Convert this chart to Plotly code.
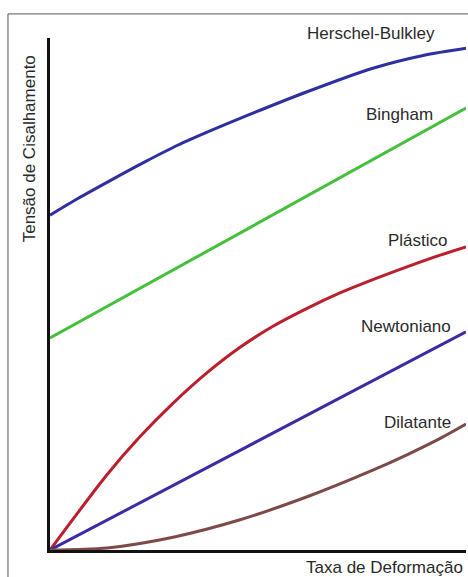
import plotly.graph_objects as go

# Data (x: 0-100 shear rate, y: 0-100 shear stress)
hb_x = [0, 6.8, 14.8, 22.8, 30.8, 38.9, 45.7, 61.8, 77.6, 89.7, 100]
hb_y = [65.4, 68.7, 72.3, 75.8, 79.1, 82.0, 84.3, 89.5, 94.1, 96.6, 98.0]

bingham_x = [0, 100]
bingham_y = [41.4, 86.3]

plastico_x = [0, 13.7, 21.6, 29.6, 37.7, 45.7, 53.6, 61.8, 69.7, 77.6, 85.8, 93.8, 100]
plastico_y = [0, 14.7, 22.1, 28.7, 34.6, 39.6, 43.7, 47.2, 50.2, 52.8, 55.3, 57.6, 59.2]

newton_x = [0, 100]
newton_y = [0, 42.6]

dilat_x = [0, 13.7, 29.6, 45.7, 61.8, 77.6, 85.8, 93.8, 100]
dilat_y = [0, 0.4, 2.5, 5.9, 10.4, 15.6, 18.6, 21.8, 24.6]

names = ["Herschel-Bulkley", "Bingham", "Plástico", "Newtoniano", "Dilatante"]
colors = ["#2e2fa0", "#45c03c", "#bb1f2c", "#3a2ca2", "#7d4a4a"]
series = [(hb_x, hb_y), (bingham_x, bingham_y), (plastico_x, plastico_y),
          (newton_x, newton_y), (dilat_x, dilat_y)]

fig = go.Figure()
for (xs, ys), n, c in zip(series, names, colors):
    fig.add_trace(go.Scatter(x=xs, y=ys, mode="lines", name=n,
                             line=dict(color=c, width=3, shape="spline", smoothing=0.8),
                             cliponaxis=False, showlegend=False))

font = dict(family="Liberation Sans, Arial, sans-serif", size=17, color="#2a2a2a")

# label positions in paper coordinates (right edge, vertical centre)
label_pos = [(0.930, 1.008), (0.925, 0.850), (0.962, 0.605), (0.969, 0.436), (0.969, 0.250)]
for n, (lx, ly) in zip(names, label_pos):
    fig.add_annotation(x=lx, y=ly, xref="paper", yref="paper", text=n, showarrow=False,
                       xanchor="right", yanchor="middle", font=font)

fig.add_annotation(x=0.998, y=-0.035, xref="paper", yref="paper", text="Taxa de Deformação",
                   showarrow=False, xanchor="right", yanchor="middle", font=font)
fig.add_annotation(x=-0.050, y=0.783, xref="paper", yref="paper", text="Tensão de Cisalhamento",
                   showarrow=False, textangle=-90, xanchor="center", yanchor="middle", font=font)

# outer frame
fig.add_shape(type="rect", xref="paper", yref="paper",
              x0=-0.101, x1=1.02, y0=-0.07, y1=1.047,
              line=dict(color="#555", width=1), layer="below")

fig.update_xaxes(range=[0, 100], showline=True, linecolor="#111", linewidth=2.5,
                 showgrid=False, zeroline=False, showticklabels=False, ticks="")
fig.update_yaxes(range=[0, 100], showline=True, linecolor="#111", linewidth=2.5,
                 showgrid=False, zeroline=False, showticklabels=False, ticks="")

fig.update_layout(width=468, height=577, margin=dict(l=50, r=2, t=38, b=27),
                  paper_bgcolor="white", plot_bgcolor="white")

fig.write_html("out.html", config={"displayModeBar": False},
               post_script="document.body.style.margin='0';document.body.style.overflow='hidden';")
